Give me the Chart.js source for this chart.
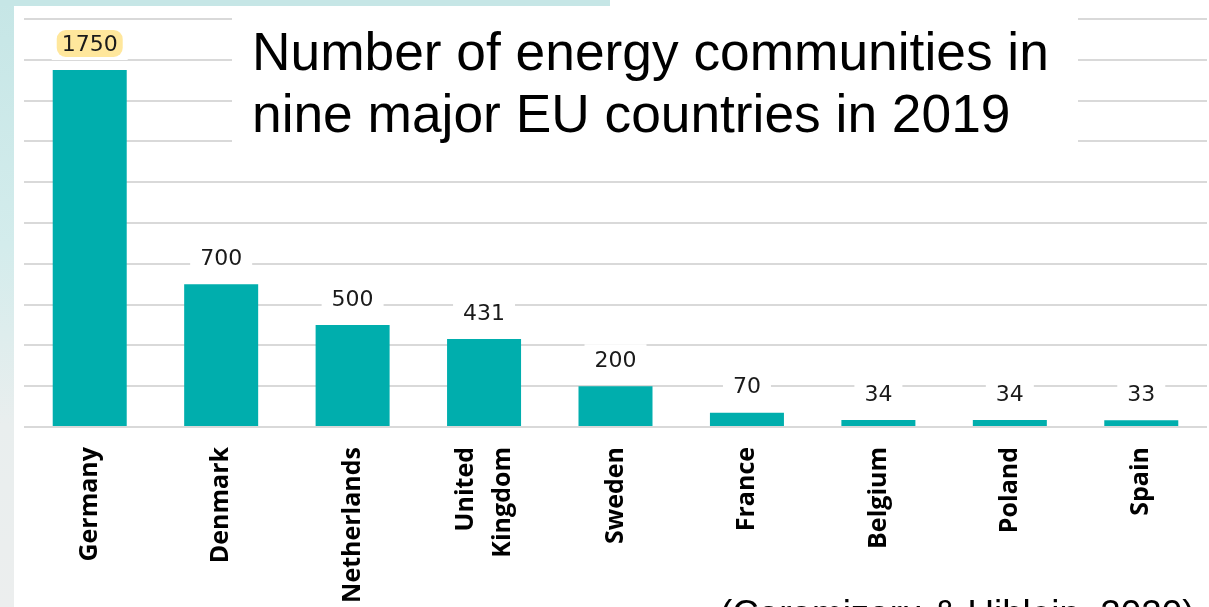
<!DOCTYPE html>
<html>
<head>
<meta charset="utf-8">
<script src="https://cdn.jsdelivr.net/npm/chart.js@4.4.1/dist/chart.umd.min.js"></script>
<style>
  html, body { margin: 0; padding: 0; width: 1209px; height: 607px; overflow: hidden; background: #ffffff; }
  #leftStrip { position: absolute; left: 0; top: 0; width: 14px; height: 607px;
    background: linear-gradient(to bottom, #c6e6e6 0%, #d3ecec 40%, #e9eeee 70%, #eceeee 100%); }
  #topStrip { position: absolute; left: 0; top: 0; width: 610px; height: 6px; background: #c6e6e6; }
  #wrap { position: absolute; left: 0; top: 0; width: 1209px; height: 607px; }
  #title { position: absolute; left: 232px; top: 8px; width: 826px; height: 139px; padding: 13px 0 0 20px;
    background: #ffffff; font-family: "Liberation Sans", Arial, sans-serif; font-size: 53.3px; line-height: 62px; color: #000; white-space: nowrap; }
  #source { position: absolute; left: 720px; top: 596px; font-family: "Liberation Sans", Arial, sans-serif;
    font-size: 36.8px; line-height: 36px; color: #000; white-space: nowrap; }
</style>
</head>
<body>
<div id="leftStrip"></div>
<div id="topStrip"></div>
<div id="wrap"><canvas id="c"></canvas></div>
<div id="title">Number of energy communities in<br>nine major EU countries in 2019</div>
<div id="source">(Caramizaru &amp; Uihlein, 2020)</div>
<script>
const categories = ['Germany', 'Denmark', 'Netherlands', ['United', 'Kingdom'], 'Sweden', 'France', 'Belgium', 'Poland', 'Spain'];
const communities = [1750, 700, 500, 431, 200, 70, 34, 34, 33];
const highlightIndex = [0];

const valueLabels = {
  id: 'valueLabels',
  afterDatasetsDraw(chart) {
    const ctx = chart.ctx;
    const meta = chart.getDatasetMeta(0);
    ctx.save();
    ctx.font = '22px "DejaVu Sans", Verdana, sans-serif';
    ctx.textAlign = 'center';
    ctx.textBaseline = 'middle';
    meta.data.forEach((bar, i) => {
      const txt = String(communities[i]);
      const cx = bar.x;
      const cy = bar.y - 25;
      const w = ctx.measureText(txt).width;
      ctx.fillStyle = '#ffffff';
      ctx.fillRect(cx - w / 2 - 10, cy - 17, w + 20, 32);
      if (highlightIndex.includes(i)) {
        ctx.fillStyle = '#ffe79c';
        const bw = w + 10, bh = 27, r = 9;
        const bx = cx - bw / 2, by = cy - bh / 2 - 1.5;
        ctx.beginPath();
        ctx.moveTo(bx + r, by);
        ctx.arcTo(bx + bw, by, bx + bw, by + bh, r);
        ctx.arcTo(bx + bw, by + bh, bx, by + bh, r);
        ctx.arcTo(bx, by + bh, bx, by, r);
        ctx.arcTo(bx, by, bx + bw, by, r);
        ctx.closePath();
        ctx.fill();
      }
      ctx.fillStyle = '#1a1a1a';
      ctx.fillText(txt, cx, cy);
    });
    ctx.restore();
  }
};

const categoryLabels = {
  id: 'categoryLabels',
  afterDraw(chart) {
    const ctx = chart.ctx;
    const xs = chart.scales.x;
    const lineGap = 37;
    ctx.save();
    ctx.font = 'bold 25px "Open Sans", sans-serif';
    ctx.fillStyle = '#000000';
    ctx.textAlign = 'right';
    ctx.textBaseline = 'middle';
    categories.forEach((lab, i) => {
      const lines = Array.isArray(lab) ? lab : [lab];
      const px = xs.getPixelForValue(i);
      ctx.save();
      ctx.translate(px, xs.top + 20);
      ctx.rotate(-Math.PI / 2);
      lines.forEach((ln, j) => {
        ctx.fillText(ln, 0, (j - (lines.length - 1) / 2) * lineGap);
      });
      ctx.restore();
    });
    ctx.restore();
  }
};

new Chart(document.getElementById('c'), {
  type: 'bar',
  data: {
    labels: categories,
    datasets: [{
      data: communities,
      backgroundColor: '#00aead',
      borderWidth: 0,
      barPercentage: 0.563,
      categoryPercentage: 1.0
    }]
  },
  options: {
    responsive: true,
    maintainAspectRatio: false,
    animation: false,
    layout: { padding: { left: 24, top: 19, right: 2, bottom: 0 } },
    plugins: { legend: { display: false }, tooltip: { enabled: false } },
    scales: {
      x: {
        grid: { display: false, drawTicks: false },
        border: { display: false },
        ticks: { display: false },
        afterFit(scale) { scale.height = 180; }
      },
      y: {
        min: 0,
        max: 2000,
        ticks: { display: false, stepSize: 200 },
        grid: { color: '#d9d9d9', lineWidth: 2, drawTicks: false },
        border: { display: false },
        afterFit(scale) { scale.width = 0; }
      }
    }
  },
  plugins: [valueLabels, categoryLabels]
});
</script>
</body>
</html>
